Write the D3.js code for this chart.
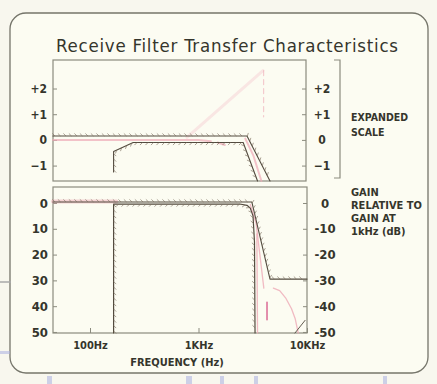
<!DOCTYPE html>
<html>
<head>
<meta charset="utf-8">
<script src="https://cdn.jsdelivr.net/npm/d3@7/dist/d3.min.js"></script>
<style>
  body { margin: 0; background: #f8f7ee; }
  svg { display: block; }
  text { font-family: "DejaVu Sans Condensed", "Liberation Sans Narrow", "DejaVu Sans", sans-serif; fill: #35352c; }
</style>
</head>
<body>
<div id="chart"></div>
<script>
// ---- data (Hz, dB) ----
const freqTicks = [100, 1000, 10000];
const freqLabels = ["100Hz", "1KHz", "10KHz"];

const topTicks = [2, 1, 0, -1];
const topLeftLabels = ["+2", "+1", "0", "\u22121"];
const topRightLabels = ["+2", "+1", "0", "\u22121"];

const botTicks = [0, -10, -20, -30, -40, -50];
const botLeftLabels = ["0", "10", "20", "30", "40", "50"];
const botRightLabels = ["0", "-10", "-20", "-30", "-40", "-50"];

// expanded scale masks
const topUpper = [[45.6, 0.15], [2800, 0.15], [4560, -1.6]];
const topLower = [[165, -1.25], [165, -0.45], [250, -0.1], [2580, -0.1], [3500, -1.6]];
// faded red response traces
const topResp = [
  [[45.6, 0], [1000, 0], [1300, -0.05]],
  [[1500, -0.1], [1750, -0.2]],
  [[2700, 0.05], [3200, -0.6], [3800, -1.6]]
];
const topSmear = [[783, 0.1], [3930, 2.7]];
const topSpike = [[3980, 2.7], [3980, 0.9]];

// full scale masks
const botUpper = [[45.6, 0.4], [3100, 0.4], [4560, -29.5], [10000, -29.5]];
const botLower = [[165, -50.4], [165, -0.4], [2400, -0.4], [2800, -0.9], [3000, -2], [3180, -5], [3280, -15], [3320, -50.4]];
const botResp = [
  [[45.6, 0.6], [175, 0.6]],
  [[3000, -0.6], [3400, -8], [4000, -33]],
  [[3450, -12], [3500, -50.4]],
  [[4900, -33], [5600, -34], [6400, -37], [7200, -41], [7800, -45], [8300, -50.4]]
];
const botMagenta = [[4280, -38.4], [4280, -45.3]];
const botStub = [[7750, -50.4], [9600, -45.5]];

// ---- layout ----
const W = 437, H = 384;
const svg = d3.select("#chart").append("svg").attr("width", W).attr("height", H);

svg.append("rect").attr("x", 10).attr("y", 13).attr("width", 418).attr("height", 360)
  .attr("rx", 16).attr("fill", "#fcfcf2").attr("stroke", "#75756a").attr("stroke-width", 1.3);

// a few scan smudges outside the frame
svg.append("line").attr("x1", 0).attr("x2", 11).attr("y1", 282).attr("y2", 282)
  .attr("stroke", "#a9a9a9").attr("stroke-width", 1.5);
[[0, 351, 10, 3], [47, 376, 5, 8], [186, 376, 6, 8], [220, 376, 4, 8], [254, 376, 4, 8], [383, 376, 4, 8]].forEach(r => {
  svg.append("rect").attr("x", r[0]).attr("y", r[1]).attr("width", r[2]).attr("height", r[3])
    .attr("fill", "#aab0e2").attr("opacity", 0.55);
});

svg.append("text").attr("x", 227).attr("y", 52).attr("text-anchor", "middle")
  .attr("font-size", 18.5).attr("textLength", 342).text("Receive Filter Transfer Characteristics");

const x = d3.scaleLog().domain([45.6, 10000]).range([53, 307]);
const yTop = d3.scaleLinear().domain([-1.6, 3.11]).range([181, 60]);
const yBot = d3.scaleLinear().domain([-50.4, 6.2]).range([333, 187]);

const frameCol = "#8b8b7e";
svg.append("rect").attr("x", 53).attr("y", 60).attr("width", 253).attr("height", 121)
  .attr("fill", "none").attr("stroke", frameCol).attr("stroke-width", 1.2);
svg.append("rect").attr("x", 53).attr("y", 187).attr("width", 254).attr("height", 146)
  .attr("fill", "none").attr("stroke", frameCol).attr("stroke-width", 1.2);

function styleAxis(g, size) {
  g.select(".domain").remove();
  g.selectAll(".tick line").attr("stroke", frameCol);
  g.selectAll(".tick text").attr("font-size", size).attr("font-weight", 600)
    .style("font-family", null).attr("fill", "#35352c");
}

// top panel axes
svg.append("g").attr("transform", "translate(53,0)")
  .call(d3.axisLeft(yTop).tickValues(topTicks).tickSize(-4).tickPadding(6)
    .tickFormat((d, i) => topLeftLabels[i]))
  .call(g => styleAxis(g, 12))
  .call(g => g.selectAll(".tick text").filter(d => d === -1).attr("fill", "#d9b9bc"));
svg.append("g").attr("transform", "translate(306,0)")
  .call(d3.axisRight(yTop).tickValues(topTicks).tickSize(-4)
    .tickFormat((d, i) => topRightLabels[i]))
  .call(g => styleAxis(g, 12))
  .call(g => g.selectAll(".tick text").attr("x", 16).attr("text-anchor", "middle"));

// bottom panel axes
svg.append("g").attr("transform", "translate(53,0)")
  .call(d3.axisLeft(yBot).tickValues(botTicks).tickSize(-4).tickPadding(5)
    .tickFormat((d, i) => botLeftLabels[i]))
  .call(g => styleAxis(g, 13));
svg.append("g").attr("transform", "translate(307,0)")
  .call(d3.axisRight(yBot).tickValues(botTicks).tickSize(-4)
    .tickFormat((d, i) => botRightLabels[i]))
  .call(g => styleAxis(g, 13))
  .call(g => g.selectAll(".tick text").attr("x", 18).attr("text-anchor", "middle"));

svg.append("g").attr("transform", "translate(0,333)")
  .call(d3.axisBottom(x).tickValues(freqTicks).tickSize(-5).tickPadding(8)
    .tickFormat((d, i) => freqLabels[i]))
  .call(g => styleAxis(g, 11));

svg.append("text").attr("x", 177).attr("y", 366).attr("text-anchor", "middle")
  .attr("font-size", 11).attr("font-weight", 600).text("FREQUENCY (Hz)");

// bracket + side captions
svg.append("path").attr("d", "M334,60H340V178H334").attr("fill", "none")
  .attr("stroke", frameCol).attr("stroke-width", 1.2);
[["EXPANDED", 121], ["SCALE", 136]].forEach(t => {
  svg.append("text").attr("x", 351).attr("y", t[1]).attr("font-size", 10.5)
    .attr("font-weight", 600).text(t[0]);
});
[["GAIN", 196], ["RELATIVE TO", 209], ["GAIN AT", 222], ["1kHz (dB)", 235]].forEach(t => {
  svg.append("text").attr("x", 351).attr("y", t[1]).attr("font-size", 11)
    .attr("font-weight", 600).text(t[0]);
});

// ---- curves ----
const lineTop = d3.line().x(d => x(d[0])).y(d => yTop(d[1]));
const lineBot = d3.line().x(d => x(d[0])).y(d => yBot(d[1]));

function trace(line, pts, col, w, op) {
  return svg.append("path").attr("d", line(pts)).attr("fill", "none")
    .attr("stroke", col).attr("stroke-width", w).attr("opacity", op)
    .attr("stroke-linejoin", "round").attr("stroke-linecap", "round");
}

// small diagonal hatch strokes along a mask; side +1 = left of travel direction
function hatch(path, side) {
  const node = path.node(), L = node.getTotalLength();
  const g = svg.append("g").attr("stroke", "#7d7060").attr("stroke-width", 0.75).attr("opacity", 0.85);
  for (let d = 2; d < L - 1; d += 5.5) {
    const p = node.getPointAtLength(d);
    const a = node.getPointAtLength(Math.max(0, d - 0.5)), b = node.getPointAtLength(Math.min(L, d + 0.5));
    let tx = b.x - a.x, ty = b.y - a.y;
    const n = Math.hypot(tx, ty) || 1; tx /= n; ty /= n;
    const nx = side > 0 ? ty : -ty, ny = side > 0 ? -tx : tx;
    const hx = (nx - tx) * 2.6, hy = (ny - ty) * 2.6;
    g.append("line").attr("x1", p.x).attr("y1", p.y).attr("x2", p.x + hx).attr("y2", p.y + hy);
  }
}

const pink = "#eeaab6";
topResp.forEach(s => trace(lineTop, s, pink, 2, 0.7));
trace(lineTop, topSmear, "#f4c6cc", 3, 0.4);
trace(lineTop, topSpike, pink, 1.2, 0.6).attr("stroke-dasharray", "5 4");

botResp.forEach((s, i) => trace(lineBot, s, pink, i === 0 ? 4 : 1.3, i === 0 ? 0.5 : 0.8));
trace(lineBot, botMagenta, "#d0407a", 1.3, 0.9);

const maskCol = "#524a3e";
hatch(trace(lineTop, topUpper, maskCol, 1.1, 1), 1);
hatch(trace(lineTop, topLower, maskCol, 1.1, 1), -1);
hatch(trace(lineBot, botUpper, maskCol, 1.1, 1), 1);
hatch(trace(lineBot, botLower, maskCol, 1.2, 1), -1);
trace(lineBot, botStub, maskCol, 1, 0.9);
</script>
</body>
</html>
